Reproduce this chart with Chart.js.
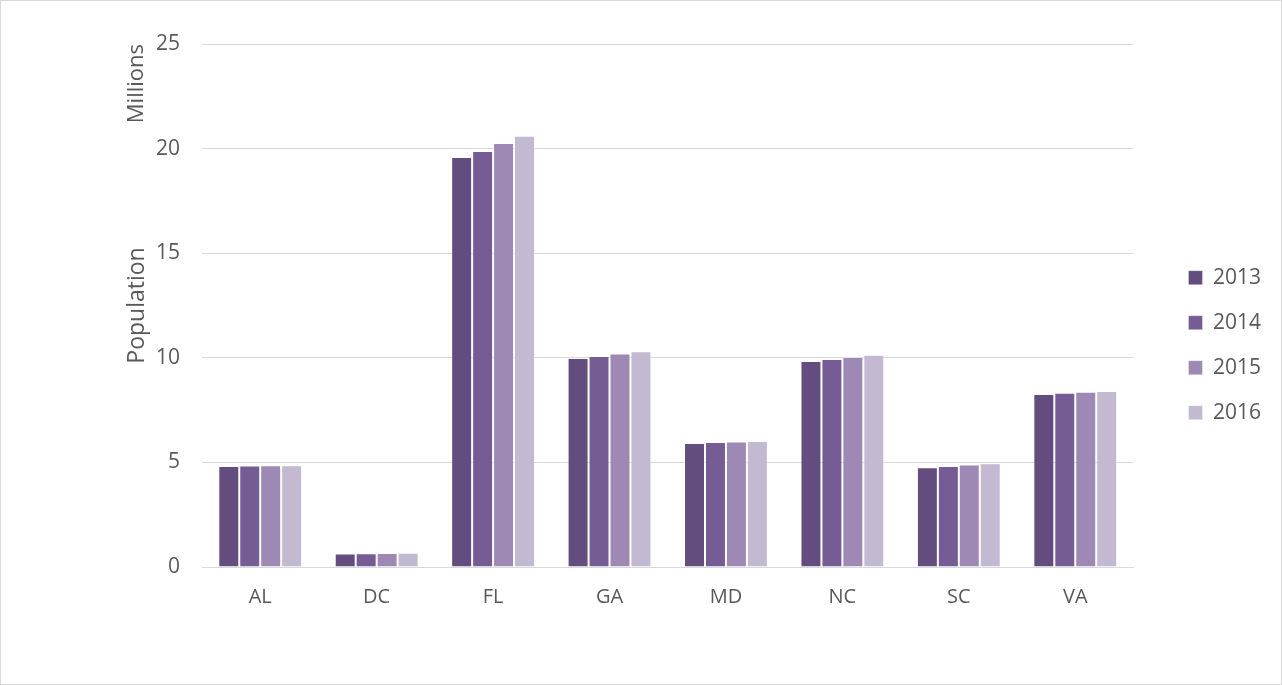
<!DOCTYPE html>
<html>
<head>
<meta charset="utf-8">
<script src="https://cdn.jsdelivr.net/npm/chart.js@4/dist/chart.umd.min.js"></script>
<style>
  html, body { margin: 0; padding: 0; background: #fff; }
  #wrap { width: 1280px; height: 683px; border: 1px solid #d9d9d9; }
</style>
</head>
<body>
<div id="wrap"><canvas id="chart" width="1280" height="683"></canvas></div>
<script>
// states and yearly population (millions)
const states = ['AL', 'DC', 'FL', 'GA', 'MD', 'NC', 'SC', 'VA'];
const years = ['2013', '2014', '2015', '2016'];
const pop2013 = [4.83, 0.65, 19.60, 9.99, 5.93, 9.85, 4.77, 8.27];
const pop2014 = [4.85, 0.66, 19.89, 10.09, 5.97, 9.94, 4.83, 8.33];
const pop2015 = [4.86, 0.67, 20.27, 10.20, 6.00, 10.04, 4.90, 8.38];
const pop2016 = [4.86, 0.68, 20.61, 10.31, 6.02, 10.15, 4.96, 8.41];
const yTicks = [0, 5, 10, 15, 20, 25];

const colors = ['#634c7e', '#765c95', '#9d89b3', '#c3b9d1'];
const textColor = '#595959';
const fontFamily = '"Open Sans", sans-serif';

// display-unit label above the axis title, like Excel's "Millions"
const unitLabel = {
  id: 'unitLabel',
  afterDraw(chart) {
    const ctx = chart.ctx;
    const area = chart.chartArea;
    ctx.save();
    ctx.translate(136, area.top);
    ctx.rotate(-Math.PI / 2);
    ctx.font = '22px ' + fontFamily;
    ctx.fillStyle = textColor;
    ctx.textAlign = 'right';
    ctx.textBaseline = 'middle';
    ctx.fillText('Millions', 0, 0);
    ctx.restore();
  }
};

// push the legend a bit away from the plot, leaving a gap like the original
const legendShift = {
  id: 'legendShift',
  afterLayout(chart) {
    chart.legend.left += 31;
    chart.legend.right += 31;
  }
};

new Chart(document.getElementById('chart'), {
  type: 'bar',
  data: {
    labels: states,
    datasets: [pop2013, pop2014, pop2015, pop2016].map(function (vals, i) {
      return {
        label: years[i],
        data: vals,
        backgroundColor: colors[i],
        borderColor: 'rgba(255,255,255,0.35)',
        borderWidth: 1,
        categoryPercentage: 0.72,
        barPercentage: 1.0
      };
    })
  },
  options: {
    responsive: false,
    animation: false,
    layout: { padding: { left: 0, top: 43, right: 41, bottom: 65 } },
    plugins: {
      legend: {
        position: 'right',
        align: 'center',
        title: { display: true, text: ' ', font: { size: 12 }, padding: { top: 6, bottom: 7 } },
        labels: {
          boxWidth: 14,
          boxHeight: 14,
          padding: 24,
          color: textColor,
          font: { family: fontFamily, size: 21 }
        }
      },
      tooltip: { enabled: false }
    },
    scales: {
      x: {
        grid: { display: false },
        border: { display: true, color: '#d9d9d9' },
        ticks: { color: textColor, font: { family: fontFamily, size: 20 }, padding: 10 }
      },
      y: {
        min: 0,
        max: 25,
        afterBuildTicks: function (scale) {
          scale.ticks = yTicks.map(function (v) { return { value: v }; });
        },
        afterFit: function (scale) { scale.width = 201; },
        grid: { color: '#d9d9d9', drawTicks: false },
        border: { display: false },
        ticks: { color: textColor, font: { family: fontFamily, size: 21 }, padding: 22 },
        title: {
          display: true,
          text: 'Population',
          color: textColor,
          font: { family: fontFamily, size: 23 },
          padding: { top: 123, bottom: 0 }
        }
      }
    }
  },
  plugins: [unitLabel, legendShift]
});
</script>
</body>
</html>
